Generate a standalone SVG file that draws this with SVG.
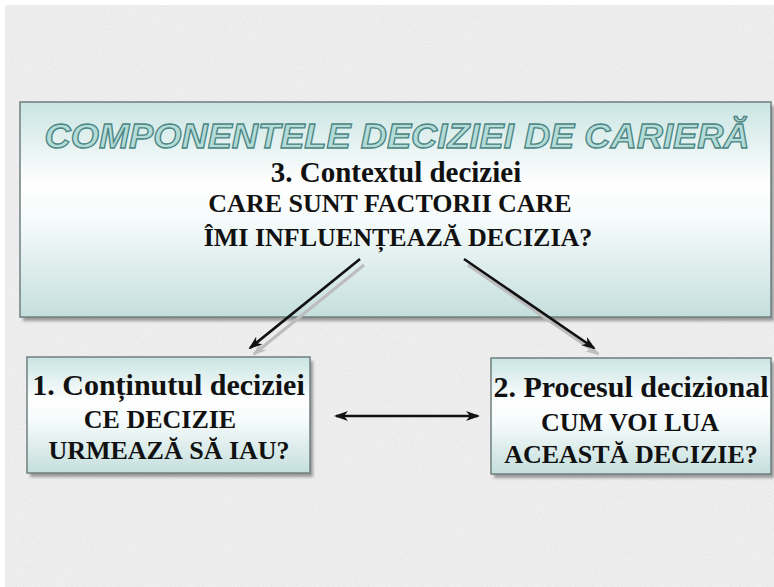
<svg xmlns="http://www.w3.org/2000/svg" width="774" height="587" viewBox="0 0 774 587">
  <defs>
    <style>
      .box { stroke: #6f7f7f; stroke-width: 1.5; }
      .shadow { fill: #9a9a9a; filter: url(#blur); }
      .title { font-family: 'Liberation Sans', Arial, sans-serif; font-weight: bold; font-style: italic; font-size: 35px; fill: #b3dcd8; stroke: #4b8582; stroke-width: 1.3; text-anchor: middle; }
      .t { font-family: 'Liberation Serif', 'Times New Roman', 'DejaVu Serif', serif; font-weight: bold; fill: #111; text-anchor: middle; }
      .h { font-size: 30px; }
      .h3 { font-size: 29px; }
      .s { font-size: 26px; }
      .arrow { stroke: #111; stroke-width: 2.6; fill: none; }
      .ashadow { stroke: #bdbdbd; stroke-width: 3.2; fill: none; filter: url(#blur1); }
    </style>
    <linearGradient id="g" x1="0" y1="0" x2="0" y2="1">
      <stop offset="0" stop-color="#c9e5e3"/>
      <stop offset="0.38" stop-color="#ffffff"/>
      <stop offset="0.55" stop-color="#f6fbfb"/>
      <stop offset="1" stop-color="#c4dfdd"/>
    </linearGradient>
    <filter id="blur" x="-5%" y="-5%" width="110%" height="110%">
      <feGaussianBlur stdDeviation="1.5"/>
    </filter>
    <filter id="blur1" x="-10%" y="-10%" width="120%" height="120%">
      <feGaussianBlur stdDeviation="0.7"/>
    </filter>
    <filter id="noise" x="0" y="0" width="100%" height="100%">
      <feTurbulence type="fractalNoise" baseFrequency="0.9" numOctaves="2" seed="3" result="n"/>
      <feColorMatrix in="n" type="matrix" values="0 0 0 0 0.55  0 0 0 0 0.55  0 0 0 0 0.55  0 0 0 -1.2 0.75"/>
    </filter>
    <marker id="ah" viewBox="0 0 14 10" refX="12" refY="5" markerWidth="14" markerHeight="10" markerUnits="userSpaceOnUse" orient="auto-start-reverse">
      <path d="M0,0 L14,5 L0,10 L4,5 Z" fill="#111"/>
    </marker>
    <marker id="ahs" viewBox="0 0 14 10" refX="12" refY="5" markerWidth="14" markerHeight="10" markerUnits="userSpaceOnUse" orient="auto-start-reverse">
      <path d="M0,0 L14,5 L0,10 L4,5 Z" fill="#bdbdbd"/>
    </marker>
  </defs>

  <rect x="0" y="0" width="774" height="587" fill="#ffffff"/>
  <rect x="5" y="5" width="769" height="582" fill="#efefef"/>
  <rect x="5" y="5" width="769" height="582" fill="#efefef" filter="url(#noise)" opacity="0.35"/>

  <g id="node-context">
    <rect class="shadow" x="23" y="106" width="751" height="215"/>
    <rect class="box" x="20" y="102" width="751" height="215" fill="url(#g)"/>
    <text class="title" x="397" y="148" textLength="705" lengthAdjust="spacingAndGlyphs">COMPONENTELE DECIZIEI DE CARIERĂ</text>
    <text class="t h3" font-family="Liberation Serif, serif" x="396" y="182">3. Contextul deciziei</text>
    <text class="t s" font-family="Liberation Serif, serif" x="390" y="212">CARE SUNT FACTORII CARE</text>
    <text class="t s" font-family="Liberation Serif, serif" x="398" y="246">ÎMI INFLUENȚEAZĂ DECIZIA?</text>
  </g>

  <g id="node-continut">
    <rect class="shadow" x="30" y="361" width="283" height="116"/>
    <rect class="box" x="27" y="357" width="283" height="116" fill="url(#g)"/>
    <text class="t h" x="168.5" y="395">1. Conținutul deciziei</text>
    <text class="t s" x="160" y="428">CE DECIZIE</text>
    <text class="t s" x="169" y="459">URMEAZĂ SĂ IAU?</text>
  </g>

  <g id="node-proces">
    <rect class="shadow" x="494" y="362" width="280" height="116"/>
    <rect class="box" x="491" y="358" width="280" height="116" fill="url(#g)"/>
    <text class="t h" x="631" y="397">2. Procesul decizional</text>
    <text class="t s" x="630" y="431">CUM VOI LUA</text>
    <text class="t s" x="631" y="463">ACEASTĂ DECIZIE?</text>
  </g>

  <g id="connectors">
    <g transform="translate(4,6)">
      <line class="ashadow" x1="360" y1="259" x2="250" y2="348" marker-end="url(#ahs)"/>
      <line class="ashadow" x1="464" y1="259" x2="594" y2="348" marker-end="url(#ahs)"/>
      <line class="ashadow" x1="336" y1="416" x2="478" y2="416" marker-start="url(#ahs)" marker-end="url(#ahs)"/>
    </g>
    <line class="arrow" x1="360" y1="259" x2="250" y2="348" marker-end="url(#ah)"/>
    <line class="arrow" x1="464" y1="259" x2="594" y2="348" marker-end="url(#ah)"/>
    <line class="arrow" x1="336" y1="416" x2="478" y2="416" marker-start="url(#ah)" marker-end="url(#ah)"/>
  </g>
</svg>
